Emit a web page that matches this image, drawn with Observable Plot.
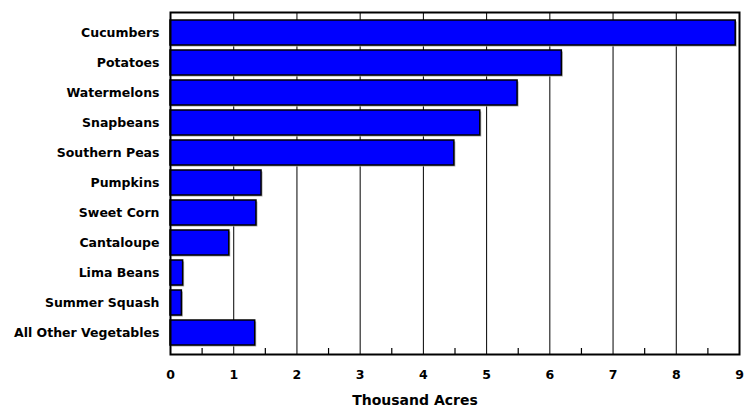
<!DOCTYPE html>
<html>
<head>
<meta charset="utf-8">
<script src="https://cdn.jsdelivr.net/npm/d3@7"></script>
<script src="https://cdn.jsdelivr.net/npm/@observablehq/plot@0.6"></script>
<style>
  html, body { margin: 0; padding: 0; background: #fff; }
  #chart svg { display: block; }
</style>
</head>
<body>
<div id="chart"></div>
<script>
const categories = ["Cucumbers", "Potatoes", "Watermelons", "Snapbeans", "Southern Peas", "Pumpkins", "Sweet Corn", "Cantaloupe", "Lima Beans", "Summer Squash", "All Other Vegetables"];
const values = [8.94, 6.19, 5.49, 4.9, 4.49, 1.44, 1.36, 0.93, 0.2, 0.18, 1.34];
const majorTicks = [0, 1, 2, 3, 4, 5, 6, 7, 8, 9];
const minorTicks = [0.5, 1.5, 2.5, 3.5, 4.5, 5.5, 6.5, 7.5, 8.5];
const gridLines = [1, 2, 3, 4, 5, 6, 7, 8];
const xLabel = "Thousand Acres";

const data = categories.map((c, i) => ({category: c, value: values[i]}));

const chart = Plot.plot({
  width: 753,
  height: 413,
  marginLeft: 170,
  marginRight: 14,
  marginTop: 12,
  marginBottom: 59,
  style: {fontFamily: "'DejaVu Sans', sans-serif", fontSize: "12px", fontWeight: "bold", color: "#000"},
  x: {domain: [0, 9]},
  y: {domain: categories, padding: 0.16},
  marks: [
    Plot.ruleX(gridLines, {stroke: "#000", strokeWidth: 1}),
    Plot.axisX({ticks: minorTicks, tickSize: -6, text: null, label: null, stroke: "#000", strokeWidth: 1.2}),
    Plot.axisX({ticks: majorTicks, tickSize: 0, tickPadding: 16, tickFormat: d => String(d), label: null, fontSize: 12.5, fontWeight: "bold"}),
    Plot.text([xLabel], {frameAnchor: "bottom", dy: 50, dx: -40, fontSize: 14, fontWeight: "bold"}),
    Plot.axisY({tickSize: 0, tickPadding: 11, label: null, fontSize: 12.5, fontWeight: "bold"}),
    Plot.barX(data, {x: "value", y: "category", fill: "#aaa", dx: 1.5, dy: 1.5}),
    Plot.barX(data, {x: "value", y: "category", fill: "#0000ff", stroke: "#000", strokeWidth: 1.5}),
    Plot.frame({stroke: "#000", strokeWidth: 2})
  ]
});
document.getElementById("chart").appendChild(chart);
</script>
</body>
</html>
